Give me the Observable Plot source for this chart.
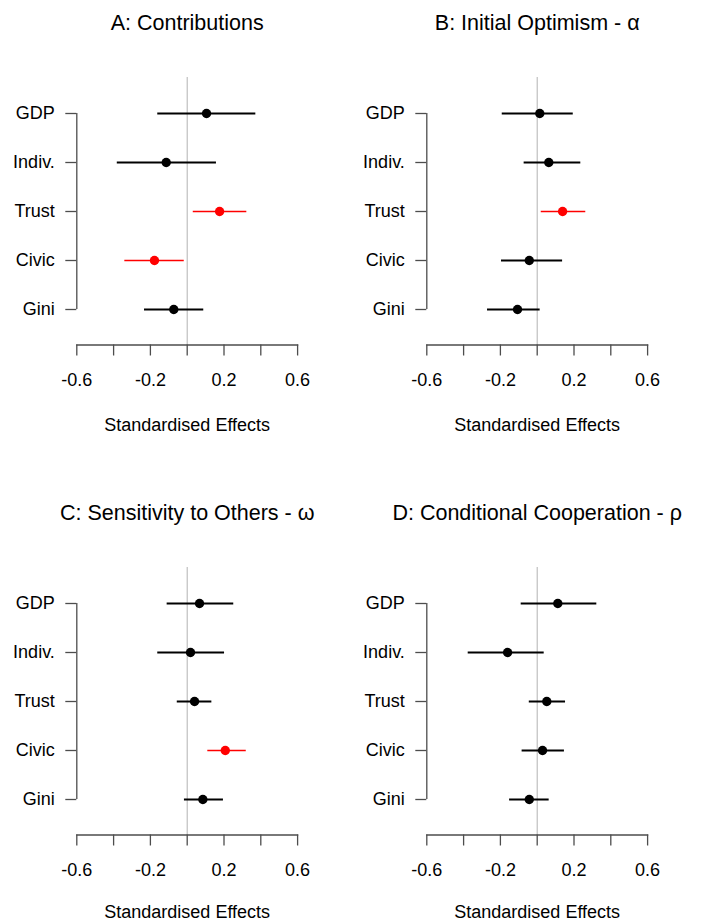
<!DOCTYPE html>
<html>
<head>
<meta charset="utf-8">
<script src="https://cdn.jsdelivr.net/npm/d3@7"></script>
<script src="https://cdn.jsdelivr.net/npm/@observablehq/plot@0.6"></script>
<style>
  html, body { margin: 0; padding: 0; background: #fff; }
  #wrap { width: 701px; height: 922px; overflow: hidden; position: relative; background: #fff; }
  #grid { display: grid; grid-template-columns: 350px 350px; grid-auto-rows: 490px; }
  #grid svg { display: block; }
</style>
</head>
<body>
<div id="wrap"><div id="grid"></div></div>
<script>
const categories = ["GDP", "Indiv.", "Trust", "Civic", "Gini"];
const titles = [
  "A: Contributions",
  "B: Initial Optimism - \u03B1",
  "C: Sensitivity to Others - \u03C9",
  "D: Conditional Cooperation - \u03C1"
];
const xTicks = [-0.6, -0.4, -0.2, 0, 0.2, 0.4, 0.6];
const xTickLabels = ["-0.6", "", "-0.2", "", "0.2", "", "0.6"];
const xLabel = "Standardised Effects";

const A_est = [0.105, -0.114, 0.176, -0.178, -0.073];
const A_lo  = [-0.160, -0.380, 0.033, -0.339, -0.232];
const A_hi  = [0.373, 0.159, 0.324, -0.016, 0.090];
const A_sig = [false, false, true, true, false];

const B_est = [0.014, 0.063, 0.138, -0.043, -0.107];
const B_lo  = [-0.190, -0.071, 0.022, -0.194, -0.270];
const B_hi  = [0.196, 0.237, 0.264, 0.138, 0.016];
const B_sig = [false, false, true, false, false];

const C_est = [0.067, 0.018, 0.040, 0.207, 0.085];
const C_lo  = [-0.109, -0.160, -0.054, 0.112, -0.015];
const C_hi  = [0.253, 0.203, 0.134, 0.321, 0.197];
const C_sig = [false, false, false, true, false];

const D_est = [0.112, -0.161, 0.052, 0.029, -0.043];
const D_lo  = [-0.087, -0.375, -0.043, -0.082, -0.150];
const D_hi  = [0.324, 0.038, 0.154, 0.148, 0.065];
const D_sig = [false, false, false, false, false];

const panels = [
  [A_est, A_lo, A_hi, A_sig],
  [B_est, B_lo, B_hi, B_sig],
  [C_est, C_lo, C_hi, C_sig],
  [D_est, D_lo, D_hi, D_sig]
];

const font = "'Liberation Sans', Arial, Helvetica, sans-serif";
const axisColor = "#4d4d4d";
const grid = document.getElementById("grid");

panels.forEach(([est, lo, hi, sig], k) => {
  const data = categories.map((c, i) => ({cat: c, est: est[i], lo: lo[i], hi: hi[i], sig: sig[i]}));
  const black = data.filter(d => !d.sig);
  const red = data.filter(d => d.sig);
  const bottomRow = k >= 2;
  const chart = Plot.plot({
    width: 350,
    height: 490,
    marginLeft: 76.3,
    marginRight: 52.9,
    marginTop: 77,
    marginBottom: 145.5,
    style: {fontFamily: font, background: "#fff", color: "#000", overflow: "visible"},
    x: {domain: [-0.6, 0.6]},
    y: {type: "point", domain: categories, padding: 0.71},
    marks: [
      Plot.ruleX([0], {stroke: "#b3b3b3", strokeWidth: 1}),
      Plot.frame({anchor: "bottom", stroke: axisColor, strokeWidth: 1.3}),
      Plot.ruleX([-0.6], {y1: () => categories[0], y2: () => categories[categories.length - 1], stroke: axisColor, strokeWidth: 1.3}),
      Plot.axisX({
        ticks: xTicks,
        tickSize: 11,
        tickPadding: 17,
        tickFormat: (d, i) => xTickLabels[xTicks.findIndex(t => Math.abs(t - d) < 1e-9)],
        stroke: axisColor,
        strokeWidth: 1.3,
        fontSize: 18,
        fill: "#000",
        label: null
      }),
      Plot.axisY({
        tickSize: 11,
        tickPadding: 11,
        stroke: axisColor,
        strokeWidth: 1.3,
        fontSize: 18,
        fill: "#000",
        label: null
      }),
      Plot.ruleY(black, {y: "cat", x1: "lo", x2: "hi", stroke: "#000", strokeWidth: 2}),
      Plot.ruleY(red, {y: "cat", x1: "lo", x2: "hi", stroke: "#ff0000", strokeWidth: 1.6}),
      Plot.dot(black, {y: "cat", x: "est", r: 4.7, fill: "#000", stroke: "none"}),
      Plot.dot(red, {y: "cat", x: "est", r: 4.7, fill: "#ff0000", stroke: "none"}),
      Plot.text([titles[k]], {frameAnchor: "top", lineAnchor: "bottom", dy: -47.7, fontSize: 21.5, fill: "#000"}),
      Plot.text([xLabel], {frameAnchor: "bottom", lineAnchor: "bottom", dy: bottomRow ? 82.5 : 86, fontSize: 18, fill: "#000"})
    ]
  });
  grid.appendChild(chart);
});
</script>
</body>
</html>
